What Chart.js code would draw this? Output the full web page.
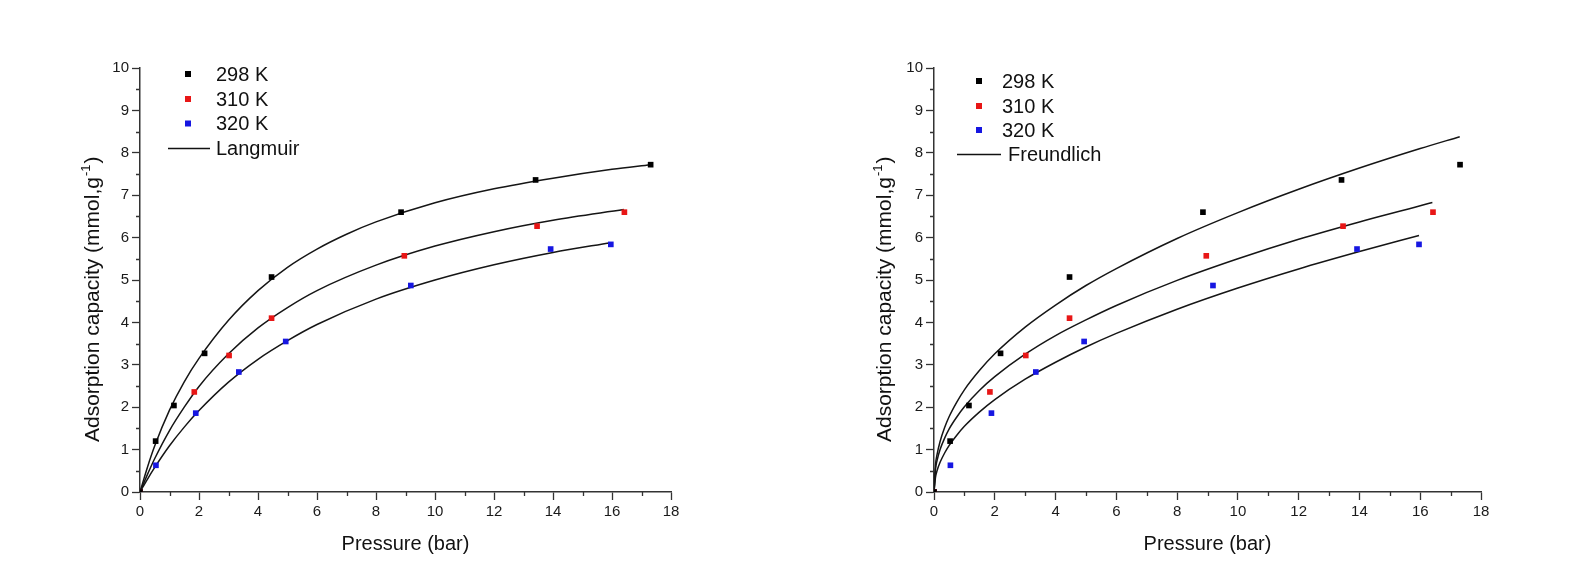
<!DOCTYPE html>
<html>

<head>
    <meta charset="UTF-8">
    <title>Adsorption isotherms - Langmuir and Freundlich</title>
    <script src="https://cdn.jsdelivr.net/npm/chart.js"></script>
    <style>
        body {
            margin: 0;
            background: #fff;
        }

        .panel {
            position: absolute;
            top: 0;
        }
    </style>
</head>

<body>
    <canvas id="langmuirChart" class="panel" width="795" height="588" style="left:0px"></canvas>
    <canvas id="freundlichChart" class="panel" width="796" height="588" style="left:795px"></canvas>

    <script>
        // measured points (same in both panels)
        const p298 = [0, 0.53, 1.15, 2.19, 4.46, 8.85, 13.41, 17.31];
        const q298 = [0, 1.20, 2.04, 3.27, 5.07, 6.60, 7.36, 7.72];
        const p310 = [0, 1.84, 3.02, 4.46, 8.96, 13.46, 16.42];
        const q310 = [0, 2.36, 3.22, 4.10, 5.57, 6.27, 6.60];
        const p320 = [0, 0.54, 1.89, 3.35, 4.94, 9.18, 13.92, 15.96];
        const q320 = [0, 0.63, 1.86, 2.83, 3.55, 4.87, 5.73, 5.84];

        // Langmuir fit curves
        const lgP298 = [0, 0.25, 0.5, 1, 1.5, 2, 3, 4, 5, 6, 7, 8, 10, 12, 14, 16, 17.3];
        const lgQ298 = [0, 0.58, 1.09, 1.93, 2.6, 3.15, 4.05, 4.75, 5.3, 5.73, 6.08, 6.37, 6.82, 7.15, 7.4, 7.61, 7.72];
        const lgP310 = [0, 0.25, 0.5, 1, 1.5, 2, 3, 4, 5, 6, 8, 10, 12, 14, 16.4];
        const lgQ310 = [0, 0.41, 0.79, 1.45, 2.0, 2.49, 3.26, 3.87, 4.35, 4.75, 5.35, 5.8, 6.14, 6.41, 6.66];
        const lgP320 = [0, 0.25, 0.5, 1, 1.5, 2, 3, 4, 5, 6, 8, 10, 12, 14, 15.96];
        const lgQ320 = [0, 0.30, 0.58, 1.09, 1.53, 1.92, 2.59, 3.13, 3.57, 3.95, 4.55, 5.0, 5.36, 5.65, 5.88];

        // Freundlich fit curves
        const frP298 = [0, 0.05, 0.1, 0.2, 0.35, 0.5, 0.75, 1, 1.5, 2, 3, 4, 5, 6, 8, 10, 12, 14, 16, 17.3];
        const frQ298 = [0, 0.65, 0.88, 1.19, 1.52, 1.78, 2.12, 2.41, 2.87, 3.26, 3.89, 4.41, 4.87, 5.27, 5.98, 6.59, 7.14, 7.64, 8.10, 8.38];
        const frP310 = [0, 0.05, 0.1, 0.2, 0.35, 0.5, 0.75, 1, 1.5, 2, 3, 4, 5, 6, 8, 10, 12, 14, 16, 16.4];
        const frQ310 = [0, 0.54, 0.74, 1.00, 1.27, 1.49, 1.77, 2.01, 2.40, 2.72, 3.25, 3.69, 4.06, 4.40, 4.99, 5.50, 5.96, 6.37, 6.75, 6.83];
        const frP320 = [0, 0.05, 0.1, 0.2, 0.35, 0.5, 0.75, 1, 1.5, 2, 3, 4, 5, 6, 8, 10, 12, 14, 15.96];
        const frQ320 = [0, 0.35, 0.50, 0.70, 0.92, 1.10, 1.34, 1.55, 1.89, 2.18, 2.66, 3.06, 3.42, 3.74, 4.31, 4.81, 5.26, 5.67, 6.05];

        const seriesLabels = ['298 K', '310 K', '320 K'];
        const xMinorTicks = [1, 3, 5, 7, 9, 11, 13, 15, 17];
        const yMinorTicks = [0.5, 1.5, 2.5, 3.5, 4.5, 5.5, 6.5, 7.5, 8.5, 9.5];

        const FONT = '"Liberation Sans", Arial, sans-serif';
        const colors = ['#000000', 'rgb(232, 22, 22)', 'rgb(22, 22, 225)'];

        function toXY(xs, ys) {
            return xs.map((x, i) => ({ x: x, y: ys[i] }));
        }

        // minor ticks, in-plot legend and axis titles
        const panelDecor = {
            id: 'panelDecor',
            afterDraw(chart, args, o) {
                const ctx = chart.ctx;
                const xs = chart.scales.x;
                const ys = chart.scales.y;
                const a = chart.chartArea;
                ctx.save();

                ctx.strokeStyle = '#333';
                ctx.lineWidth = 1.3;
                ctx.beginPath();
                xMinorTicks.forEach(v => {
                    const px = Math.round(xs.getPixelForValue(v)) + 0.5;
                    ctx.moveTo(px, a.bottom);
                    ctx.lineTo(px, a.bottom + 4);
                });
                yMinorTicks.forEach(v => {
                    const py = Math.round(ys.getPixelForValue(v)) + 0.5;
                    ctx.moveTo(a.left, py);
                    ctx.lineTo(a.left - 4, py);
                });
                ctx.stroke();

                // legend
                ctx.font = '20px ' + FONT;
                ctx.textBaseline = 'middle';
                ctx.textAlign = 'left';
                ctx.fillStyle = '#111';
                seriesLabels.forEach((lab, i) => {
                    const y = o.rows[i];
                    ctx.fillStyle = colors[i];
                    ctx.fillRect(o.sqX - 3, y - 3, 6, 6);
                    ctx.fillStyle = '#111';
                    ctx.fillText(lab, o.textX, y + 1);
                });
                const ly = o.rows[3];
                ctx.strokeStyle = '#111';
                ctx.lineWidth = 1.5;
                ctx.beginPath();
                ctx.moveTo(o.lineX1, ly);
                ctx.lineTo(o.lineX2, ly);
                ctx.stroke();
                ctx.fillText(o.fitName, o.fitTextX, ly + 1);

                // x title
                ctx.textAlign = 'center';
                ctx.textBaseline = 'alphabetic';
                ctx.fillText('Pressure (bar)', (a.left + a.right) / 2, 550);

                // y title with superscript
                ctx.translate(o.yTitleX, 442);
                ctx.rotate(-Math.PI / 2);
                ctx.textAlign = 'left';
                ctx.textBaseline = 'middle';
                ctx.font = '21px ' + FONT;
                const t1 = 'Adsorption capacity (mmol,g';
                ctx.fillText(t1, 0, 0);
                let w = ctx.measureText(t1).width + 1;
                ctx.font = '13px ' + FONT;
                ctx.fillText('-1', w, -7);
                w += ctx.measureText('-1').width + 1;
                ctx.font = '21px ' + FONT;
                ctx.fillText(')', w, 0);
                ctx.restore();
            }
        };

        function makeChart(id, fits, decor, padLeft, padRight) {
            const pointSets = [[p298, q298], [p310, q310], [p320, q320]];
            const datasets = [];
            // points first so they are drawn on top of the curves
            pointSets.forEach((s, i) => {
                datasets.push({
                    label: seriesLabels[i],
                    data: toXY(s[0], s[1]),
                    showLine: false,
                    pointStyle: 'rect',
                    pointRadius: 4,
                    pointBorderWidth: 0,
                    backgroundColor: colors[i],
                    borderColor: colors[i]
                });
            });
            fits.forEach((s, i) => {
                datasets.push({
                    label: decor.fitName + ' ' + seriesLabels[i],
                    data: toXY(s[0], s[1]),
                    showLine: true,
                    pointRadius: 0,
                    borderColor: '#151515',
                    borderWidth: 1.5,
                    cubicInterpolationMode: 'monotone'
                });
            });

            const tickFont = { family: FONT, size: 15 };
            return new Chart(document.getElementById(id), {
                type: 'scatter',
                data: { datasets: datasets },
                options: {
                    responsive: false,
                    animation: false,
                    layout: { padding: { left: padLeft, right: padRight, top: 68, bottom: 0 } },
                    scales: {
                        x: {
                            type: 'linear',
                            min: 0,
                            max: 18,
                            afterFit: s => { s.height = 96; },
                            ticks: { stepSize: 2, color: '#1a1a1a', font: tickFont, padding: 3 },
                            grid: { drawOnChartArea: false, drawTicks: true, tickLength: 8, tickColor: '#333', tickWidth: 1.3 },
                            border: { display: true, color: '#333', width: 1.5 }
                        },
                        y: {
                            type: 'linear',
                            min: 0,
                            max: 10,
                            afterFit: s => { s.width = 60; },
                            ticks: { stepSize: 1, color: '#1a1a1a', font: tickFont, padding: 3 },
                            grid: { drawOnChartArea: false, drawTicks: true, tickLength: 8, tickColor: '#333', tickWidth: 1.3 },
                            border: { display: true, color: '#333', width: 1.5 }
                        }
                    },
                    plugins: {
                        legend: { display: false },
                        tooltip: { enabled: false },
                        panelDecor: decor
                    }
                },
                plugins: [panelDecor]
            });
        }

        makeChart('langmuirChart',
            [[lgP298, lgQ298], [lgP310, lgQ310], [lgP320, lgQ320]],
            {
                fitName: 'Langmuir',
                rows: [74, 99, 123.5, 148.5],
                sqX: 188, textX: 216,
                lineX1: 168, lineX2: 210, fitTextX: 216,
                yTitleX: 93
            },
            80, 124);

        makeChart('freundlichChart',
            [[frP298, frQ298], [frP310, frQ310], [frP320, frQ320]],
            {
                fitName: 'Freundlich',
                rows: [81, 106, 130, 154.5],
                sqX: 184, textX: 207,
                lineX1: 162, lineX2: 206, fitTextX: 213,
                yTitleX: 90
            },
            79, 110);
    </script>
</body>

</html>
